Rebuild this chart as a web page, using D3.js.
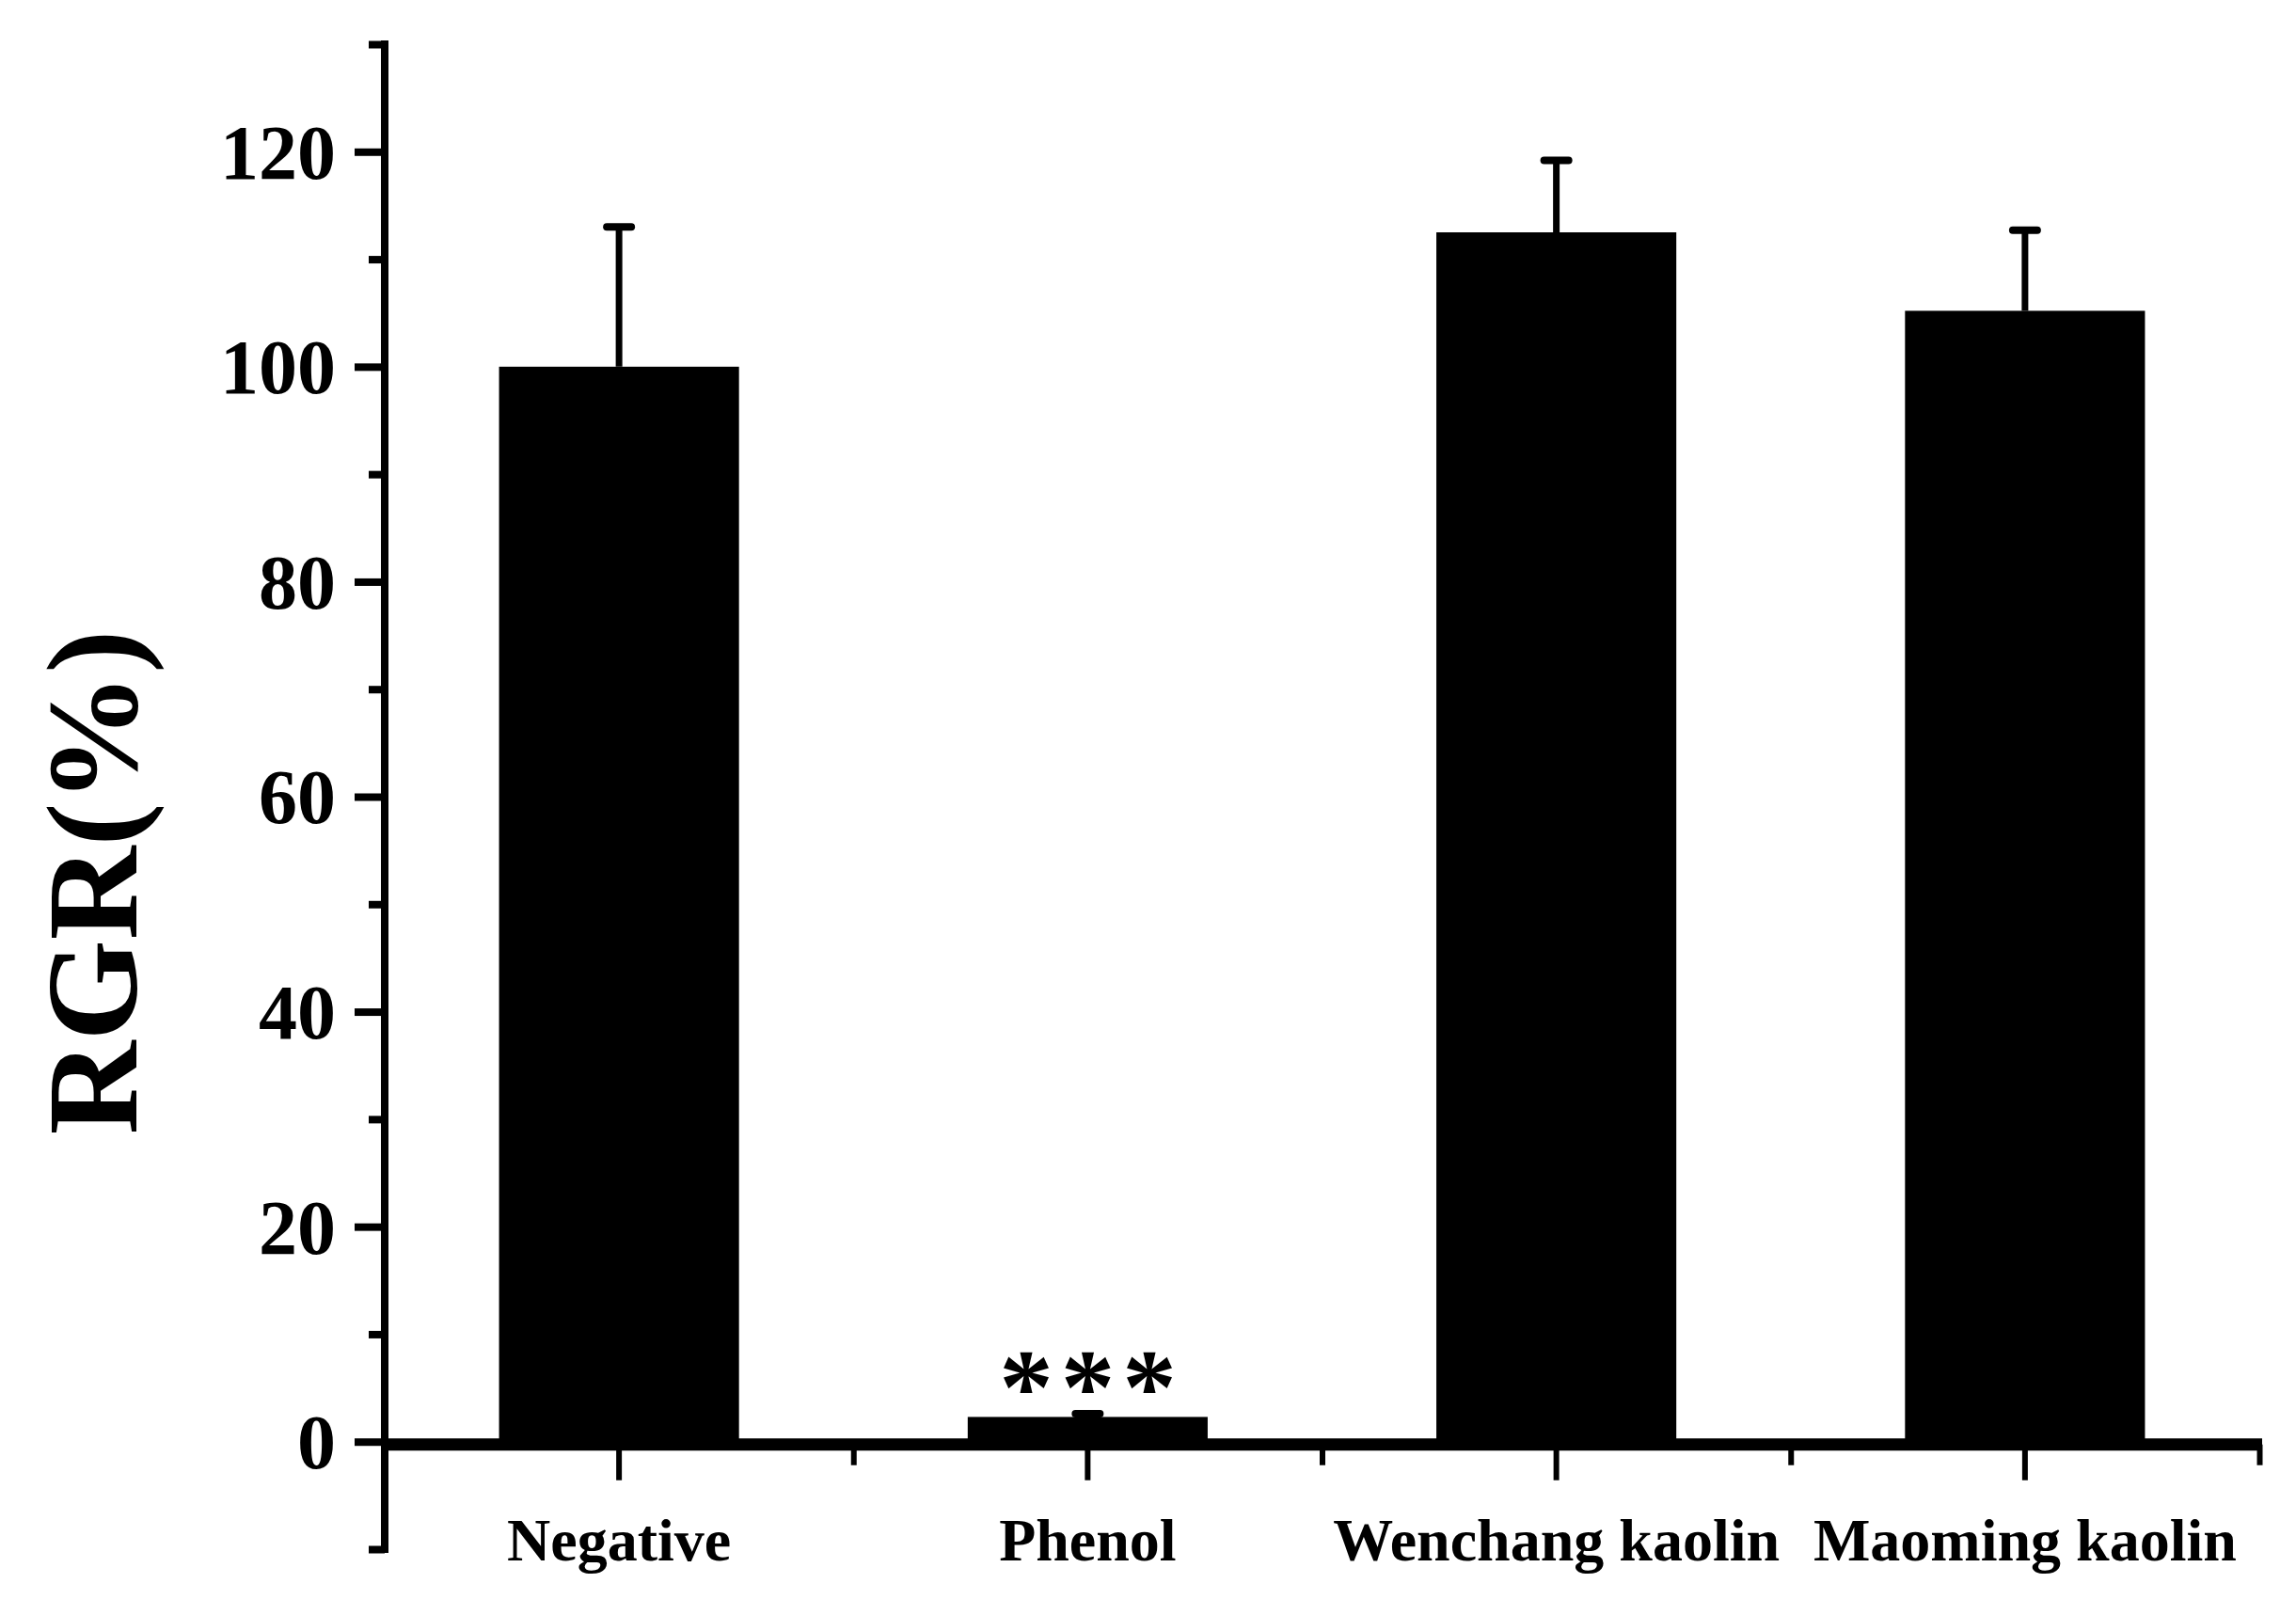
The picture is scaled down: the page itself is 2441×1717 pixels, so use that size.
<!DOCTYPE html>
<html>
<head>
<meta charset="utf-8">
<script src="https://cdn.jsdelivr.net/npm/d3@7"></script>
<style>
  html, body { margin: 0; padding: 0; background: #fff; }
  svg { display: block; }
</style>
</head>
<body>
<svg id="chart" width="2441" height="1717"></svg>
<script>
// ---- data ----
const categories = ["Negative", "Phenol", "Wenchang kaolin", "Maoming kaolin"];
const means = [100, 2.3, 112.5, 105.2];
const errors = [13.0, 0.3, 6.7, 7.5];
const significance = ["", "***", "", ""];
const yMajorTicks = [0, 20, 40, 60, 80, 100, 120];
const yMinorTicks = [-10, 10, 30, 50, 70, 90, 110, 130];
const yDomain = [-10, 130];
const yLabel = "RGR(%)";

(function draw() {
  // ---- layout ----
  const W = 2441, H = 1717;
  const mLeft = 409, mRight = 2402, mTop = 47, mBottom = 1647;
  const FONT = "'Liberation Serif', 'Times New Roman', serif";

  const svg = d3.select("#chart");
  svg.append("rect").attr("width", W).attr("height", H).attr("fill", "#fff");

  const y = d3.scaleLinear().domain(yDomain).range([mBottom, mTop]);
  const x = d3.scaleBand().domain(categories).range([mLeft, mRight])
    .paddingInner(0.488).paddingOuter(0.244);
  const xEdge = d3.scaleLinear().domain([0, categories.length]).range([mLeft, mRight]);

  const data = categories.map((c, i) => ({ c, m: means[i], e: errors[i], s: significance[i] }));

  // ---- bars ----
  svg.append("g").selectAll("rect").data(data).join("rect")
    .attr("x", d => x(d.c))
    .attr("width", x.bandwidth())
    .attr("y", d => y(d.m))
    .attr("height", d => y(0) - y(d.m))
    .attr("fill", "#000");

  // ---- error bars (upper only) ----
  const eb = svg.append("g").attr("stroke", "#000");
  eb.selectAll("line.stem").data(data).join("line")
    .attr("class", "stem")
    .attr("x1", d => x(d.c) + x.bandwidth() / 2)
    .attr("x2", d => x(d.c) + x.bandwidth() / 2)
    .attr("y1", d => y(d.m))
    .attr("y2", d => y(d.m + d.e))
    .attr("stroke-width", 7);
  eb.selectAll("line.cap").data(data).join("line")
    .attr("class", "cap")
    .attr("x1", d => x(d.c) + x.bandwidth() / 2 - 13)
    .attr("x2", d => x(d.c) + x.bandwidth() / 2 + 13)
    .attr("y1", d => y(d.m + d.e))
    .attr("y2", d => y(d.m + d.e))
    .attr("stroke-width", 8)
    .attr("stroke-linecap", "round");

  // ---- significance ----
  svg.append("g").selectAll("text").data(data.filter(d => d.s)).join("text")
    .attr("x", d => x(d.c) + x.bandwidth() / 2 + 4)
    .attr("y", d => y(d.m + d.e) + 10)
    .attr("text-anchor", "middle")
    .attr("font-family", FONT)
    .attr("font-weight", "bold")
    .attr("font-size", 115)
    .attr("letter-spacing", 8)
    .text(d => d.s);

  // ---- y axis ----
  const yAxisG = svg.append("g").attr("transform", `translate(${mLeft},0)`);
  yAxisG.call(d3.axisLeft(y).tickValues(yMajorTicks).tickSize(32).tickSizeOuter(0).tickPadding(20));
  yAxisG.select(".domain").attr("stroke", "#000").attr("stroke-width", 8)
    .attr("d", `M0,${mTop - 4}V${mBottom + 4}`);
  yAxisG.selectAll(".tick line").attr("stroke", "#000").attr("stroke-width", 8);
  yAxisG.selectAll(".tick text")
    .attr("font-family", FONT).attr("font-weight", "bold").attr("font-size", 82)
    .attr("fill", "#000").attr("dy", "0.34em");

  const yMinorG = svg.append("g").attr("transform", `translate(${mLeft},0)`);
  yMinorG.call(d3.axisLeft(y).tickValues(yMinorTicks).tickSize(17).tickSizeOuter(0).tickFormat(""));
  yMinorG.select(".domain").remove();
  yMinorG.selectAll(".tick line").attr("stroke", "#000").attr("stroke-width", 8);

  // ---- x axis ----
  const xAxisY = y(0) + 3;
  const xAxisG = svg.append("g").attr("transform", `translate(0,${xAxisY})`);
  xAxisG.call(d3.axisBottom(x).tickSize(38).tickSizeOuter(0));
  xAxisG.select(".domain").attr("stroke", "#000").attr("stroke-width", 13)
    .attr("d", `M${mLeft},0H${mRight + 3}`);
  xAxisG.selectAll(".tick line").attr("stroke", "#000").attr("stroke-width", 6);
  xAxisG.selectAll(".tick text")
    .attr("font-family", FONT).attr("font-weight", "bold").attr("font-size", 64)
    .attr("fill", "#000").attr("dy", null).attr("y", 1659 - xAxisY);

  const xMinorG = svg.append("g").attr("transform", `translate(0,${xAxisY})`);
  xMinorG.call(d3.axisBottom(xEdge).tickValues(d3.range(1, categories.length + 1)).tickSize(22).tickSizeOuter(0).tickFormat(""));
  xMinorG.select(".domain").remove();
  xMinorG.selectAll(".tick line").attr("stroke", "#000").attr("stroke-width", 6);

  // ---- y label ----
  svg.append("text")
    .attr("transform", "translate(145,938) rotate(-90)")
    .attr("text-anchor", "middle")
    .attr("font-family", FONT)
    .attr("font-weight", "bold")
    .attr("font-size", 138)
    .attr("fill", "#000")
    .text(yLabel);
})();
</script>
</body>
</html>
